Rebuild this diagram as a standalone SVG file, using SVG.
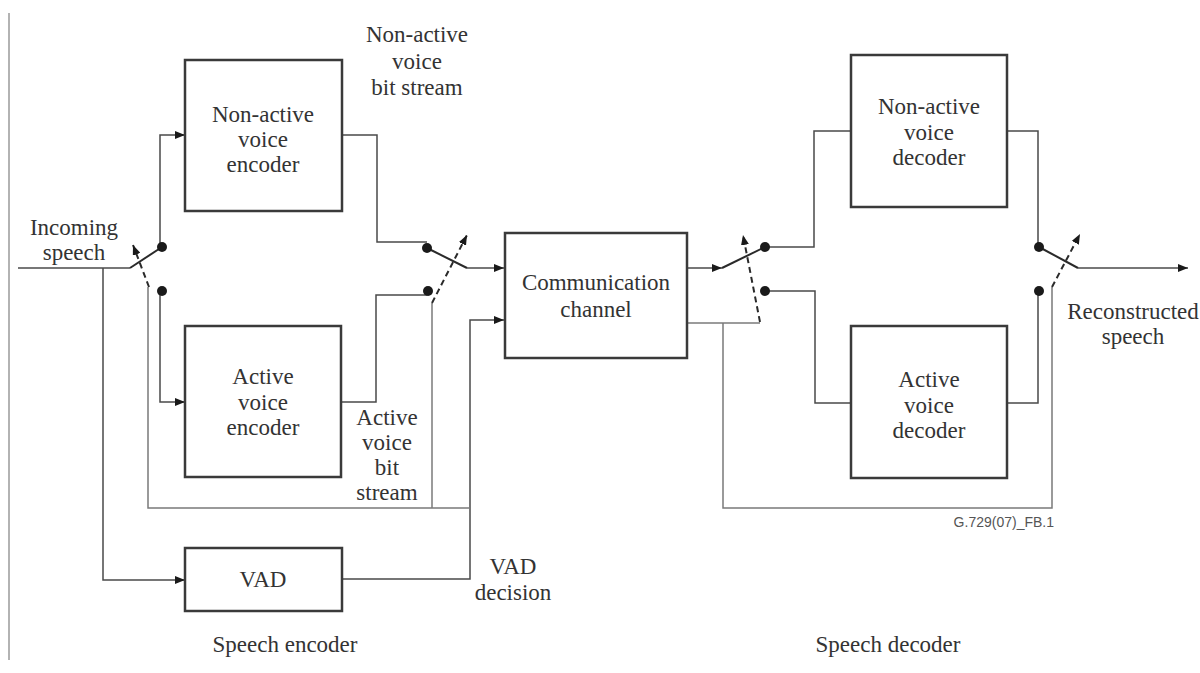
<svg xmlns="http://www.w3.org/2000/svg" width="1200" height="673" viewBox="0 0 1200 673">
  <style>
    .box { fill: #fff; stroke: #3a3a3a; stroke-width: 2.5; }
    .wire { fill: none; stroke: #4a4a4a; stroke-width: 1.5; }
    .ctrl { fill: none; stroke: #7a7a7a; stroke-width: 1.5; }
    .dash { fill: none; stroke: #2a2a2a; stroke-width: 2; stroke-dasharray: 6 4; }
    .arm { fill: none; stroke: #2a2a2a; stroke-width: 2; }
    .dot { fill: #1a1a1a; }
    .t { font-family: "Liberation Serif", "Times New Roman", serif; font-size: 23px; fill: #333; text-anchor: middle; }
    .ref { font-family: "Liberation Sans", Arial, sans-serif; font-size: 14px; fill: #555; text-anchor: end; }
  </style>
  <defs>
    <marker id="arr" viewBox="0 0 10 8" refX="10" refY="4" markerWidth="10" markerHeight="8" markerUnits="userSpaceOnUse" orient="auto">
      <path d="M0,0 L10,4 L0,8 z" fill="#1a1a1a"/>
    </marker>
    <marker id="arrS" viewBox="0 0 10 8" refX="10" refY="4" markerWidth="10" markerHeight="8" markerUnits="userSpaceOnUse" orient="auto">
      <path d="M0,0 L10,4 L0,8 z" fill="#1a1a1a"/>
    </marker>
  </defs>

  <!-- page margin rule -->
  <line x1="9" y1="13" x2="9" y2="660" stroke="#9a9a9a" stroke-width="1.5"/>

  <!-- connectors -->
  <g id="connectors">
    <!-- incoming speech and encoder side -->
    <path class="wire" d="M18,268 H130"/>
    <path class="wire" d="M103,268 V580 H185" marker-end="url(#arr)"/>
    <path class="wire" d="M160,247 V135 H185" marker-end="url(#arr)"/>
    <path class="wire" d="M160,291 V402 H185" marker-end="url(#arr)"/>
    <path class="wire" d="M342,135 H377 V242 H427"/>
    <path class="wire" d="M342,402 H376 V295 H427"/>
    <path class="wire" d="M467,268 H504" marker-end="url(#arr)"/>
    <path class="wire" d="M342,579 H470 V320 H504" marker-end="url(#arr)"/>
    <!-- VAD control lines on encoder side -->
    <path class="ctrl" d="M148,287 V508 H470"/>
    <path class="ctrl" d="M432,303 V508"/>

    <!-- decoder side -->
    <path class="wire" d="M687,268 H722" marker-end="url(#arr)"/>
    <path class="wire" d="M765,247 H814 V131 H851"/>
    <path class="wire" d="M765,291 H815 V403 H851"/>
    <path class="wire" d="M1007,131 H1038 V247"/>
    <path class="wire" d="M1007,403 H1038 V291"/>
    <path class="wire" d="M1078,268 H1188" marker-end="url(#arr)"/>
    <!-- VAD control lines on decoder side -->
    <path class="ctrl" d="M687,323 H760"/>
    <path class="ctrl" d="M723,323 V508 H1052 V287"/>

    <!-- switch arms -->
    <path class="arm" d="M130,268 L162,247"/>
    <path class="arm" d="M427,248 L467,268"/>
    <path class="arm" d="M722,268 L765,247"/>
    <path class="arm" d="M1039,247 L1078,268"/>

    <!-- switch actuators (dashed) -->
    <path class="dash" d="M149,287 L133,245" marker-end="url(#arrS)"/>
    <path class="dash" d="M432,303 L467,235" marker-end="url(#arrS)"/>
    <path class="dash" d="M760,322 L743,235" marker-end="url(#arrS)"/>
    <path class="dash" d="M1052,287 L1080,234" marker-end="url(#arrS)"/>

    <!-- switch contacts -->
    <circle class="dot" cx="162" cy="247" r="5"/>
    <circle class="dot" cx="162" cy="291" r="5"/>
    <circle class="dot" cx="427" cy="248" r="5"/>
    <circle class="dot" cx="428" cy="291" r="5"/>
    <circle class="dot" cx="765" cy="247" r="5"/>
    <circle class="dot" cx="765" cy="291" r="5"/>
    <circle class="dot" cx="1039" cy="247" r="5"/>
    <circle class="dot" cx="1039" cy="291" r="5"/>
  </g>

  <!-- encoder blocks -->
  <g id="nonactive-encoder">
    <rect class="box" x="185" y="60" width="157" height="151"/>
    <text class="t" x="263" y="122">Non-active</text>
    <text class="t" x="263" y="147">voice</text>
    <text class="t" x="263" y="172">encoder</text>
  </g>
  <g id="active-encoder">
    <rect class="box" x="185" y="326" width="156" height="151"/>
    <text class="t" x="263" y="384">Active</text>
    <text class="t" x="263" y="410">voice</text>
    <text class="t" x="263" y="435">encoder</text>
  </g>
  <g id="vad">
    <rect class="box" x="185" y="548" width="157" height="63"/>
    <text class="t" x="263" y="587">VAD</text>
  </g>

  <!-- channel -->
  <g id="channel">
    <rect class="box" x="505" y="233" width="182" height="125"/>
    <text class="t" x="596" y="290">Communication</text>
    <text class="t" x="596" y="317">channel</text>
  </g>

  <!-- decoder blocks -->
  <g id="nonactive-decoder">
    <rect class="box" x="851" y="55" width="156" height="152"/>
    <text class="t" x="929" y="114">Non-active</text>
    <text class="t" x="929" y="140">voice</text>
    <text class="t" x="929" y="165">decoder</text>
  </g>
  <g id="active-decoder">
    <rect class="box" x="851" y="326" width="156" height="152"/>
    <text class="t" x="929" y="387">Active</text>
    <text class="t" x="929" y="413">voice</text>
    <text class="t" x="929" y="438">decoder</text>
  </g>

  <!-- signal labels -->
  <g id="labels">
    <text class="t" x="417" y="42">Non-active</text>
    <text class="t" x="417" y="69">voice</text>
    <text class="t" x="417" y="95">bit stream</text>
    <text class="t" x="74" y="235">Incoming</text>
    <text class="t" x="74" y="260">speech</text>
    <text class="t" x="387" y="425">Active</text>
    <text class="t" x="387" y="450">voice</text>
    <text class="t" x="387" y="475">bit</text>
    <text class="t" x="387" y="500">stream</text>
    <text class="t" x="513" y="574">VAD</text>
    <text class="t" x="513" y="600">decision</text>
    <text class="t" x="1133" y="319">Reconstructed</text>
    <text class="t" x="1133" y="344">speech</text>
    <text class="t" x="285" y="652">Speech encoder</text>
    <text class="t" x="888" y="652">Speech decoder</text>
    <text class="ref" x="1054" y="527">G.729(07)_FB.1</text>
  </g>
</svg>
